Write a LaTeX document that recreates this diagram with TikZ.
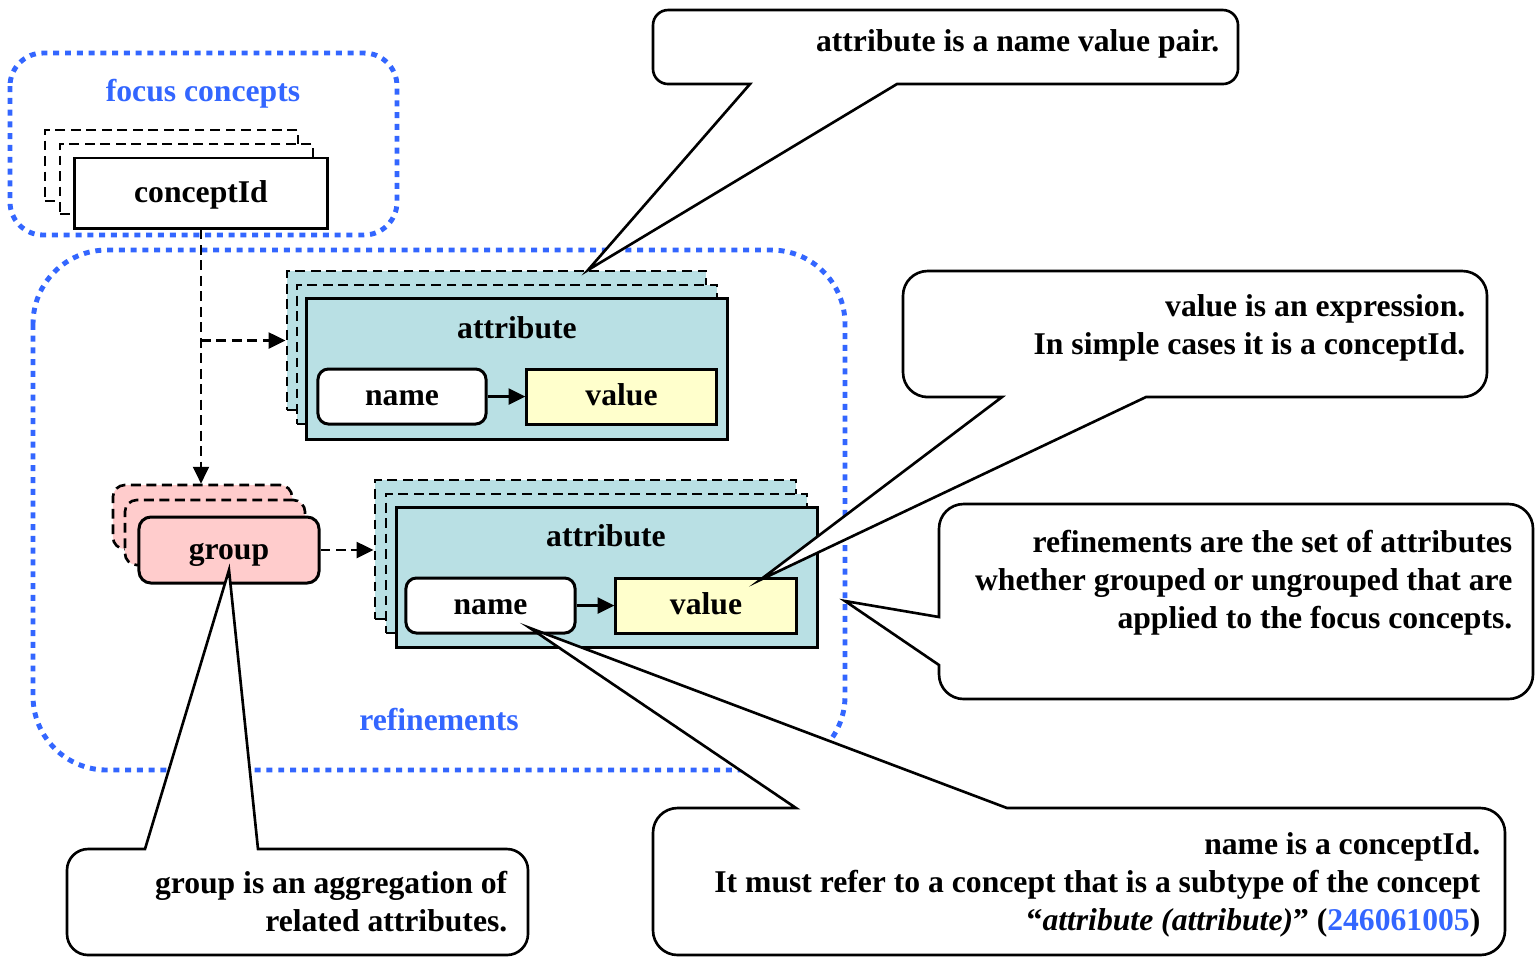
\documentclass[tikz,border=0pt]{standalone}
\usepackage{fontspec}
\setmainfont{Liberation Serif}
\usetikzlibrary{arrows.meta,calc,positioning}

\definecolor{focusblue}{RGB}{51,102,255}
\definecolor{attrteal}{RGB}{185,224,228}
\definecolor{valyellow}{RGB}{255,255,204}
\definecolor{grppink}{RGB}{255,204,204}

\tikzset{
  dotbox/.style={draw=focusblue,line width=1.4pt,dash pattern=on 1.7pt off 1.65pt},
  boxlabel/.style={text=focusblue,anchor=base},
  ghost/.style={draw,line width=0.75pt,dash pattern=on 2.8pt off 1.6pt,inner sep=0pt},
  solidbox/.style={draw,line width=0.85pt,inner sep=0pt,text height=6.2pt,text depth=1pt},
  link/.style={line width=0.75pt,dash pattern=on 2.8pt off 1.6pt,-{Triangle[length=4.8pt,width=4.5pt]}},
  pair/.style={line width=0.85pt,-{Triangle[length=4.8pt,width=4.5pt]}},
  callout/.style={draw,fill=white,line width=0.75pt,line join=miter},
  note/.style={anchor=base east,align=right,inner sep=0pt}
}

\begin{document}
\begin{tikzpicture}[x=0.01cm,y=-0.01cm,font=\fontsize{9}{10.8}\selectfont\bfseries]
  \useasboundingbox (0,0) rectangle (1537,956);

  % focus concepts
  \draw[dotbox,rounded corners=9.4pt] (10,53) rectangle (397,235);
  \node[boxlabel] (focuslbl) at (203,101) {focus concepts};
  \node[ghost,fill=white,minimum width=2.53cm,minimum height=0.71cm] (concept3) at (171.5,165.5) {};
  \node[ghost,fill=white,minimum width=2.53cm,minimum height=0.70cm] (concept2) at (186.5,179) {};
  \node[solidbox,fill=white,minimum width=2.52cm,minimum height=0.70cm] (concept) at (201,193) {conceptId};

  % refinements
  \draw[dotbox,rounded corners=21pt] (33,250) rectangle (845,770);
  \node[boxlabel] (reflbl) at (439,730) {refinements};

  % first attribute
  \node[ghost,fill=attrteal,minimum width=4.19cm,minimum height=1.39cm] (attr1c) at (496.5,340.5) {};
  \node[ghost,fill=attrteal,minimum width=4.20cm,minimum height=1.39cm] (attr1b) at (507,354.5) {};
  \node[solidbox,fill=attrteal,minimum width=4.20cm,minimum height=1.40cm] (attr1) at (517,369) {};
  \node[anchor=base] (attr1lbl) at (517,338) {attribute};
  \node[solidbox,fill=white,rounded corners=3pt,minimum width=1.68cm,minimum height=0.55cm] (name1) at (402,396.5) {name};
  \node[solidbox,fill=valyellow,minimum width=1.89cm,minimum height=0.55cm] (value1) at (621.5,396.5) {value};
  \draw[pair] (name1) -- (value1);

  % second attribute
  \node[ghost,fill=attrteal,minimum width=4.21cm,minimum height=1.39cm] (attr2c) at (585.5,549.5) {};
  \node[ghost,fill=attrteal,minimum width=4.21cm,minimum height=1.39cm] (attr2b) at (596.5,563.5) {};
  \node[solidbox,fill=attrteal,minimum width=4.20cm,minimum height=1.39cm] (attr2) at (607,577.5) {};
  \node[anchor=base] (attr2lbl) at (606,546) {attribute};
  \node[solidbox,fill=white,rounded corners=3pt,minimum width=1.69cm,minimum height=0.55cm] (name2) at (490.5,605.5) {name};
  \node[solidbox,fill=valyellow,minimum width=1.80cm,minimum height=0.55cm] (value2) at (706,605.5) {value};
  \draw[pair] (name2) -- (value2);

  % group
  \node[ghost,fill=grppink,rounded corners=3.4pt,minimum width=1.79cm,minimum height=0.64cm] (group3) at (202.5,517) {};
  \node[ghost,fill=grppink,rounded corners=3.4pt,minimum width=1.80cm,minimum height=0.65cm] (group2) at (215,532.5) {};
  \node[solidbox,fill=grppink,rounded corners=3.4pt,minimum width=1.80cm,minimum height=0.66cm] (group) at (229,550) {group};

  % links
  \draw[link] (concept.south) -- (concept.south |- group3.north);
  \draw[link] (concept.south |- attr1c.west) -- (attr1c.west);
  \draw[link] (group.east) -- (group.east -| attr2c.west);

  % callouts
  \coordinate (tip1) at (588,270);
  \coordinate (tip2) at (760,580);
  \coordinate (tip3) at (845,601);
  \coordinate (tip4) at (229,570);
  \coordinate (tip5) at (530,628);

  \draw[callout] (750,84) -- (tip1) -- (897,84) -- (950,84) [rounded corners=4.3pt] -- (1238,84) -- (1238,10) -- (653,10) -- (653,84) -- (700,84) [sharp corners] -- cycle;
  \node[note] (note1) at (1220,51) {attribute is a name value pair.};

  \draw[callout] (1002,397) -- (tip2) -- (1146,397) -- (1200,397) [rounded corners=7pt] -- (1487,397) -- (1487,271) -- (903,271) -- (903,397) -- (950,397) [sharp corners] -- cycle;
  \node[note] (note2) at (1466,354) {value is an expression.\\In simple cases it is a conceptId.};

  \draw[callout] (939,617) -- (tip3) -- (939,665) -- (939,668) [rounded corners=7pt] -- (939,699) -- (1533,699) -- (1533,504) -- (939,504) -- (939,560) [sharp corners] -- cycle;
  \node[note] (note3) at (1513,628) {refinements are the set of attributes\\whether grouped or ungrouped that are\\applied to the focus concepts.};

  \draw[callout] (145,849) -- (tip4) -- (258,849) -- (300,849) [rounded corners=6pt] -- (528,849) -- (528,955) -- (67,955) -- (67,849) -- (110,849) [sharp corners] -- cycle;
  \node[note] (note4) at (508,931) {group is an aggregation of\\related attributes.};

  \draw[callout] (796,808) -- (tip5) -- (1007,808) -- (1100,808) [rounded corners=7pt] -- (1505,808) -- (1505,955) -- (653,955) -- (653,808) -- (720,808) [sharp corners] -- cycle;
  \node[note] (note5) at (1481,930) {name is a conceptId.\\It must refer to a concept that is a subtype of the concept\\“\textit{attribute (attribute)}” (\textcolor{focusblue}{246061005})};
\end{tikzpicture}
\end{document}
